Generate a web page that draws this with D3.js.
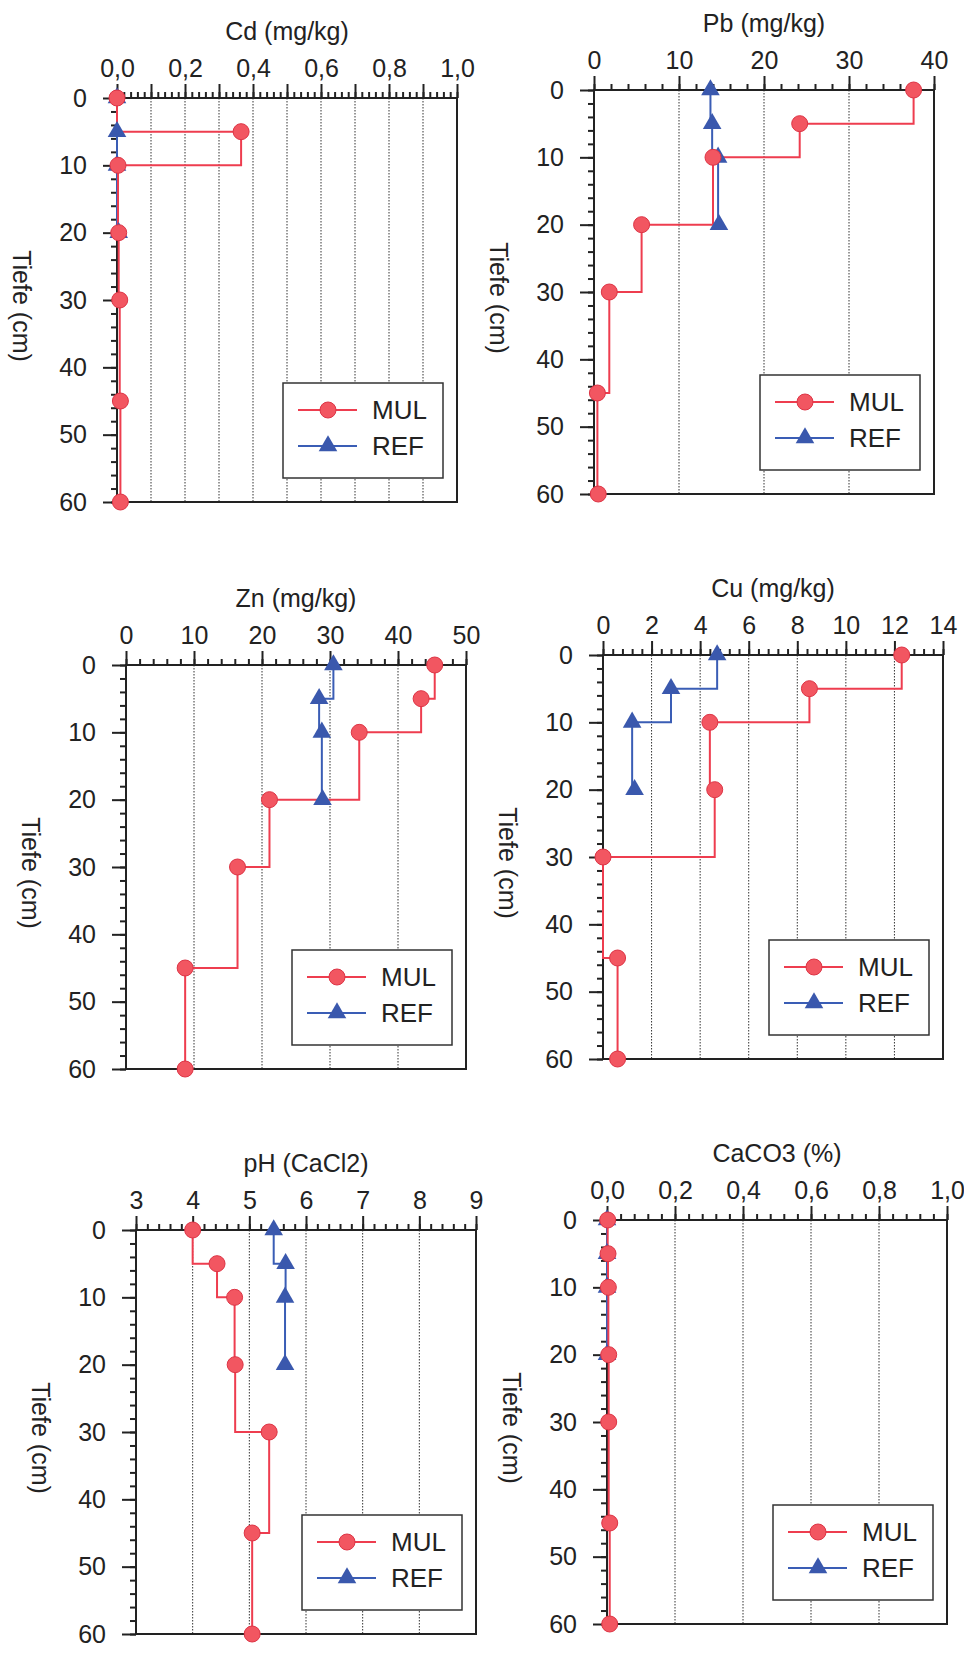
<!DOCTYPE html>
<html>
<head>
<meta charset="utf-8">
<script src="https://cdn.jsdelivr.net/npm/d3@7"></script>
<style>
body { margin: 0; background: #fff; }
text { font-family: "Liberation Sans", Arial, sans-serif; fill: #222; }
</style>
</head>
<body>
<script>
const width = 964;
const height = 1666;

// depths of the samples (cm)
const depthMUL = [0, 5, 10, 20, 30, 45, 60];
const depthREF = [0, 5, 10, 20];
const depthTicks = [0, 10, 20, 30, 40, 50, 60];

const cdMUL = [0.0, 0.365, 0.003, 0.005, 0.008, 0.01, 0.01];
const cdREF = [0.0, 0.0, 0.0, 0.005];
const cdTicks = [0, 0.2, 0.4, 0.6, 0.8, 1.0];

const pbMUL = [37.6, 24.2, 14.0, 5.6, 1.8, 0.4, 0.5];
const pbREF = [13.7, 13.9, 14.6, 14.7];
const pbTicks = [0, 10, 20, 30, 40];

const znMUL = [45.4, 43.4, 34.3, 21.1, 16.4, 8.7, 8.7];
const znREF = [30.5, 28.4, 28.8, 28.9];
const znTicks = [0, 10, 20, 30, 40, 50];

const cuMUL = [12.3, 8.5, 4.4, 4.6, 0.0, 0.6, 0.6];
const cuREF = [4.7, 2.8, 1.2, 1.3];
const cuTicks = [0, 2, 4, 6, 8, 10, 12, 14];

const phMUL = [4.0, 4.43, 4.74, 4.75, 5.35, 5.05, 5.05];
const phREF = [5.43, 5.64, 5.63, 5.63];
const phTicks = [3, 4, 5, 6, 7, 8, 9];

const caMUL = [0.002, 0.003, 0.004, 0.005, 0.005, 0.008, 0.008];
const caREF = [0.0, 0.0, 0.0, 0.0];
const caTicks = [0, 0.2, 0.4, 0.6, 0.8, 1.0];

const seriesNames = ['MUL', 'REF'];

const deLocale = d3.formatLocale({decimal: ',', thousands: '.', grouping: [3], currency: ['', ' €']});
const commaFmt = deLocale.format('.1f');

const panels = [
    {title: 'Cd (mg/kg)', mul: cdMUL, ref: cdREF, ticks: cdTicks, major: 0.1, minor: 0.02, fmt: commaFmt, x: 117, y: 98},
    {title: 'Pb (mg/kg)', mul: pbMUL, ref: pbREF, ticks: pbTicks, major: 10, minor: 2, fmt: d3.format('d'), x: 594, y: 90},
    {title: 'Zn (mg/kg)', mul: znMUL, ref: znREF, ticks: znTicks, major: 10, minor: 2, fmt: d3.format('d'), x: 126, y: 665},
    {title: 'Cu (mg/kg)', mul: cuMUL, ref: cuREF, ticks: cuTicks, major: 2, minor: 0.4, fmt: d3.format('d'), x: 603, y: 655},
    {title: 'pH (CaCl2)', mul: phMUL, ref: phREF, ticks: phTicks, major: 1, minor: 0.2, fmt: d3.format('d'), x: 136, y: 1230},
    {title: 'CaCO3 (%)', mul: caMUL, ref: caREF, ticks: caTicks, major: 0.2, minor: 0.04, fmt: commaFmt, x: 607, y: 1220}
];

const pw = 340;
const ph = 404;

const red = '#ee3d4f';
const redFill = '#f25661';
const blue = '#3a5db5';
const blueFill = '#3a58ad';

const svg = d3.select('body').append('svg')
    .attr('width', width)
    .attr('height', height);

panels.forEach(p => {
    const g = svg.append('g').attr('transform', `translate(${p.x},${p.y})`);
    const lo = p.ticks[0], hi = p.ticks[p.ticks.length - 1];

    const x = d3.scaleLinear().domain([lo, hi]).range([0, pw]);
    const y = d3.scaleLinear().domain([0, 60]).range([0, ph]);

    const eps = p.minor / 10;
    const majors = d3.range(lo, hi + eps, p.major);
    const minors = d3.range(lo, hi + eps, p.minor);
    const isLabel = v => p.ticks.some(t => Math.abs(t - v) < eps);

    // dotted grid
    g.selectAll('.grid')
        .data(majors.filter(v => v > lo + eps && v < hi - eps))
        .join('line')
        .attr('x1', d => x(d)).attr('x2', d => x(d))
        .attr('y1', 0).attr('y2', ph)
        .attr('stroke', '#333')
        .attr('stroke-width', 1)
        .attr('stroke-dasharray', '1.5,1.5');

    // axes
    const minorTop = g.append('g')
        .call(d3.axisTop(x).tickValues(minors).tickSize(6).tickFormat(''));
    const majorTop = g.append('g')
        .call(d3.axisTop(x).tickValues(majors).tickSize(14).tickPadding(7)
            .tickFormat(v => isLabel(v) ? p.fmt(v) : ''));
    const minorLeft = g.append('g')
        .call(d3.axisLeft(y).tickValues(d3.range(0, 61, 2)).tickSize(6).tickFormat(''));
    const majorLeft = g.append('g')
        .call(d3.axisLeft(y).tickValues(depthTicks).tickSize(14).tickPadding(16));

    [minorTop, majorTop, minorLeft, majorLeft].forEach(a => {
        a.select('.domain').remove();
        a.selectAll('.tick line').attr('stroke', '#222').attr('stroke-width', 2);
        a.selectAll('text').attr('font-size', 25).attr('fill', '#222')
            .attr('font-family', '"Liberation Sans", Arial, sans-serif');
    });

    g.append('rect')
        .attr('width', pw).attr('height', ph)
        .attr('fill', 'none')
        .attr('stroke', '#222')
        .attr('stroke-width', 2);

    // profiles
    const line = d3.line()
        .x(d => x(d.v))
        .y(d => y(d.d))
        .curve(d3.curveStepBefore);

    const refData = p.ref.map((v, i) => ({v: v, d: depthREF[i]}));
    const mulData = p.mul.map((v, i) => ({v: v, d: depthMUL[i]}));

    g.append('path').datum(refData)
        .attr('d', line).attr('fill', 'none')
        .attr('stroke', blue).attr('stroke-width', 2);
    g.append('path').datum(mulData)
        .attr('d', line).attr('fill', 'none')
        .attr('stroke', red).attr('stroke-width', 2);

    const tri = d3.symbol().type(d3.symbolTriangle).size(150);
    g.selectAll('.ref')
        .data(refData)
        .join('path')
        .attr('transform', d => `translate(${x(d.v)},${y(d.d)})`)
        .attr('d', tri)
        .attr('fill', blueFill);

    g.selectAll('.mul')
        .data(mulData)
        .join('circle')
        .attr('cx', d => x(d.v))
        .attr('cy', d => y(d.d))
        .attr('r', 8)
        .attr('fill', redFill)
        .attr('stroke', '#dd3445')
        .attr('stroke-width', 1);

    // titles
    g.append('text')
        .attr('x', pw / 2).attr('y', -67)
        .attr('text-anchor', 'middle')
        .attr('dominant-baseline', 'central')
        .attr('font-size', 25)
        .text(p.title);

    g.append('text')
        .attr('transform', `translate(-95,${ph / 2 + 6}) rotate(90)`)
        .attr('text-anchor', 'middle')
        .attr('dominant-baseline', 'central')
        .attr('font-size', 25)
        .text('Tiefe (cm)');

    // legend
    const lg = g.append('g').attr('transform', `translate(${pw - 174},${ph - 119})`);
    lg.append('rect')
        .attr('width', 160).attr('height', 95)
        .attr('fill', '#fff')
        .attr('stroke', '#333')
        .attr('stroke-width', 1.5);

    seriesNames.forEach((name, i) => {
        const ly = 27 + i * 36;
        const col = i === 0 ? red : blue;
        lg.append('line')
            .attr('x1', 15).attr('x2', 74)
            .attr('y1', ly).attr('y2', ly)
            .attr('stroke', col).attr('stroke-width', 2);
        if (i === 0) {
            lg.append('circle')
                .attr('cx', 45).attr('cy', ly).attr('r', 8)
                .attr('fill', redFill).attr('stroke', '#dd3445');
        } else {
            lg.append('path')
                .attr('transform', `translate(45,${ly})`)
                .attr('d', tri)
                .attr('fill', blueFill);
        }
        lg.append('text')
            .attr('x', 89).attr('y', ly)
            .attr('dominant-baseline', 'central')
            .attr('font-size', 26)
            .text(name);
    });
});
</script>
</body>
</html>
